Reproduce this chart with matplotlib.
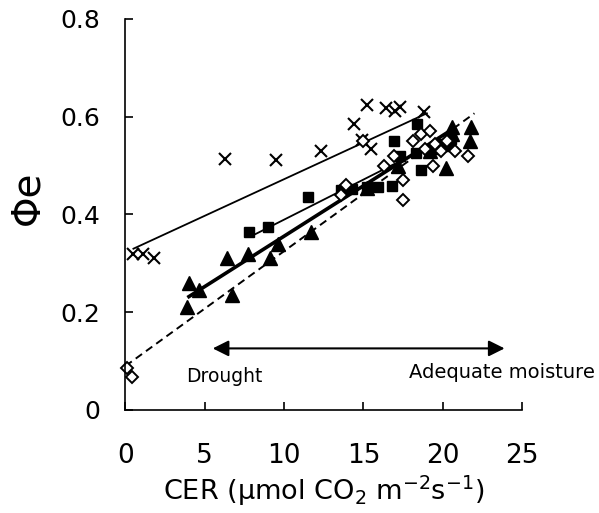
import matplotlib
matplotlib.use("Agg")
import matplotlib.pyplot as plt

# --- data ---
# crosses
cross_x = [0.5, 1.1, 1.8, 6.3, 9.5, 12.3, 14.4, 14.9, 15.5, 15.2, 16.4, 17.0, 17.3, 18.8]
cross_y = [0.32, 0.32, 0.31, 0.514, 0.512, 0.529, 0.586, 0.552, 0.535, 0.624, 0.618, 0.612, 0.62, 0.61]

# filled squares
sq_x = [7.8, 9.0, 11.5, 13.6, 14.3, 15.2, 15.9, 16.8, 16.9, 17.3, 18.3, 18.6, 18.4, 19.4, 19.8, 20.5]
sq_y = [0.365, 0.375, 0.435, 0.45, 0.452, 0.457, 0.457, 0.459, 0.55, 0.52, 0.525, 0.49, 0.585, 0.535, 0.545, 0.555]

# filled triangles
tri_x = [3.9, 4.0, 4.65, 6.4, 6.7, 7.7, 9.1, 9.6, 11.7, 15.2, 17.2, 19.2, 20.2, 20.5, 20.6, 20.6, 21.7, 21.8]
tri_y = [0.21, 0.26, 0.245, 0.31, 0.235, 0.32, 0.31, 0.34, 0.365, 0.455, 0.5, 0.53, 0.495, 0.545, 0.565, 0.578, 0.55, 0.58]

# open diamonds
dia_x = [0.1, 0.4, 13.9, 13.6, 15.0, 16.3, 16.9, 17.5, 17.5, 18.1, 18.6, 19.2, 19.4, 19.5, 19.9, 20.3, 20.8, 21.6, 18.9]
dia_y = [0.085, 0.068, 0.46, 0.44, 0.55, 0.5, 0.52, 0.47, 0.43, 0.55, 0.565, 0.57, 0.5, 0.545, 0.53, 0.55, 0.53, 0.52, 0.535]

# regression lines (end points)
fit_cross_x = [0.5, 19.0]
fit_cross_y = [0.33, 0.607]
fit_sq_x = [8.2, 19.8]
fit_sq_y = [0.36, 0.55]
fit_tri_x = [4.0, 20.5]
fit_tri_y = [0.232, 0.572]
fit_dia_x = [0.0, 22.0]
fit_dia_y = [0.09, 0.607]

fig = plt.figure(figsize=(5.99, 5.13), dpi=100)
ax = fig.add_axes([0.2095, 0.2008, 0.662, 0.7622])

ax.plot(fit_cross_x, fit_cross_y, color="black", lw=1.3)
ax.plot(fit_sq_x, fit_sq_y, color="black", lw=1.3)
ax.plot(fit_tri_x, fit_tri_y, color="black", lw=2.6)
ax.plot(fit_dia_x, fit_dia_y, color="black", lw=1.4, ls=(0, (4, 2.5)))

ax.plot(cross_x, cross_y, ls="none", marker="x", ms=9, mew=1.5, color="black", clip_on=False)
ax.plot(sq_x, sq_y, ls="none", marker="s", ms=7, color="black", clip_on=False)
ax.plot(tri_x, tri_y, ls="none", marker="^", ms=9.5, color="black", clip_on=False)
ax.plot(dia_x, dia_y, ls="none", marker="D", ms=6.5, mfc="white", mec="black", mew=1.4, clip_on=False)

# drought / moisture arrow
ax.annotate("", xy=(5.5, 0.126), xytext=(23.9, 0.126),
            arrowprops=dict(arrowstyle="<|-|>", color="black", lw=1.5, mutation_scale=24,
                            shrinkA=0, shrinkB=0))
ax.text(3.8, 0.068, "Drought", fontsize=13.5, va="center", ha="left")
ax.text(17.9, 0.076, "Adequate moisture", fontsize=14, va="center", ha="left", clip_on=False)

ax.set_xlim(0, 25)
ax.set_ylim(0, 0.8)
ax.set_xticks([0, 5, 10, 15, 20, 25])
ax.set_yticks([0, 0.2, 0.4, 0.6, 0.8])
ax.set_yticklabels(["0", "0.2", "0.4", "0.6", "0.8"])
ax.tick_params(axis="both", direction="in", length=6, width=1.2, color="black")
ax.tick_params(axis="x", labelsize=19, pad=24)
ax.tick_params(axis="y", labelsize=18, pad=18)

for s in ["top", "right"]:
    ax.spines[s].set_visible(False)
for s in ["left", "bottom"]:
    ax.spines[s].set_linewidth(1.2)

ax.set_xlabel("CER (μmol CO$_2$ m$^{-2}$s$^{-1}$)", fontsize=19.5, labelpad=3)
fig.text(0.045, 0.615, "Φe", fontsize=28, rotation=90, ha="center", va="center")

fig.savefig("out.png", dpi=100)
